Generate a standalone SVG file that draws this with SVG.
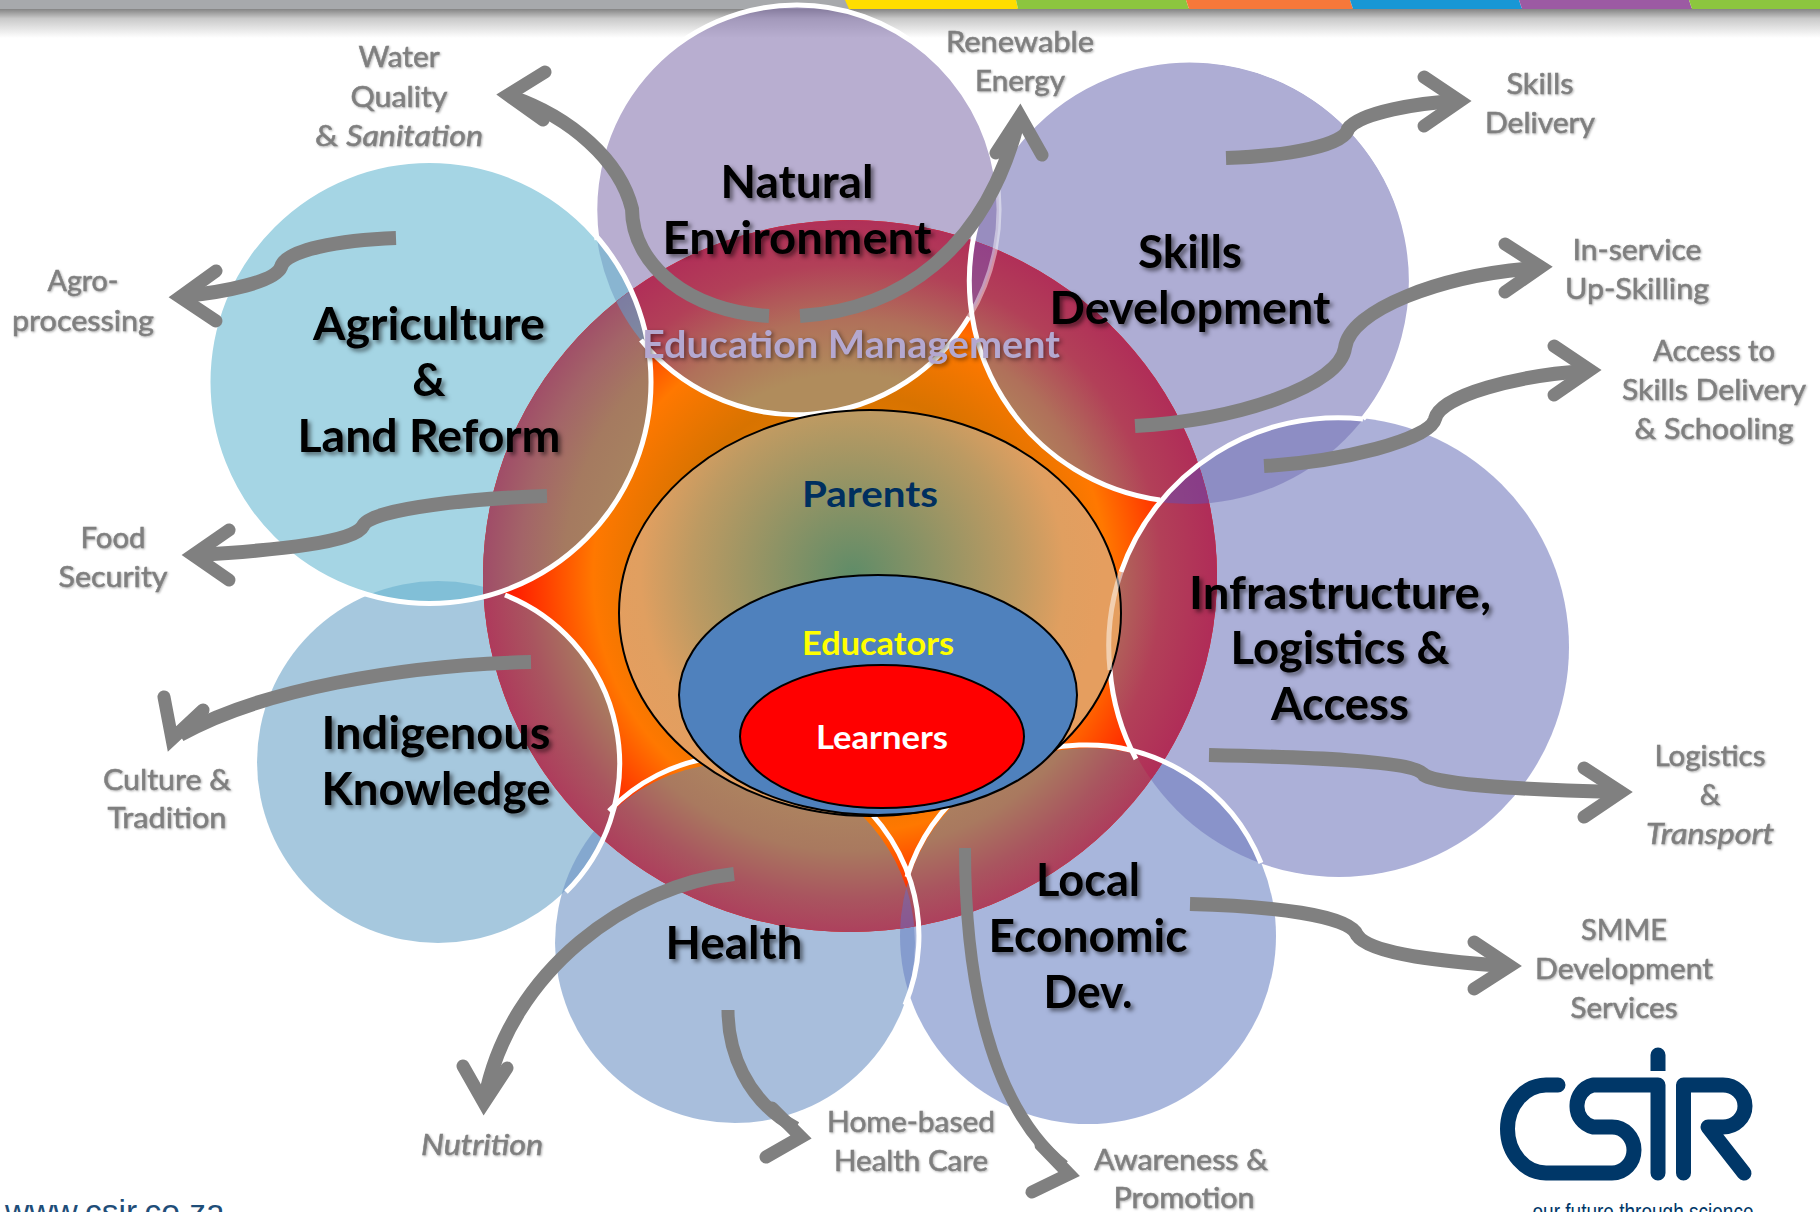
<svg xmlns="http://www.w3.org/2000/svg" width="1820" height="1212" viewBox="0 0 1820 1212">
<style>
text{font-family:Lato,"Liberation Sans",sans-serif;text-anchor:middle}
.m{font-size:46px;font-weight:700;fill:#000;filter:drop-shadow(3px 3px 2px rgba(0,0,0,.5))}
.g{font-size:29px;font-weight:400;fill:#7f7f7f;stroke:#7f7f7f;stroke-width:.5;filter:drop-shadow(1px 1px 1px rgba(0,0,0,.3))}
.c{font-size:36px;font-weight:700}
.ring{fill:none;stroke:#fff;stroke-width:5}
.f{opacity:.6}
.a{fill:none;stroke:#808080;stroke-width:14}
.b{fill:none;stroke:#808080;stroke-width:13;stroke-linecap:round;stroke-linejoin:miter}
.logo{fill:none;stroke:#003768;stroke-width:15;stroke-linecap:round;stroke-linejoin:round}
</style>
<defs>
<linearGradient id="shadow" x1="0" y1="0" x2="0" y2="1"><stop offset="0" stop-color="#7d7d7d"/><stop offset=".35" stop-color="#c9c9c9"/><stop offset="1" stop-color="#fff"/></linearGradient>
<radialGradient id="star" gradientUnits="userSpaceOnUse" cx="850" cy="576" r="367"><stop offset="0" stop-color="#ff9000"/><stop offset=".5" stop-color="#d87300"/><stop offset=".7" stop-color="#ff7800"/><stop offset=".83" stop-color="#ff4000"/><stop offset=".91" stop-color="#ff2000"/><stop offset="1" stop-color="#f01000"/></radialGradient>
<radialGradient id="muted" gradientUnits="userSpaceOnUse" cx="850" cy="576" r="367"><stop offset=".55" stop-color="#b08a60"/><stop offset=".75" stop-color="#a9795f"/><stop offset=".88" stop-color="#a9555f"/><stop offset="1" stop-color="#ae3a5c"/></radialGradient>
<radialGradient id="mutedTop" gradientUnits="userSpaceOnUse" cx="850" cy="576" r="367"><stop offset=".55" stop-color="#b08c5c"/><stop offset=".7" stop-color="#b0705a"/><stop offset=".85" stop-color="#b24058"/><stop offset="1" stop-color="#b02c58"/></radialGradient>
<radialGradient id="mutedLeft" gradientUnits="userSpaceOnUse" cx="850" cy="576" r="367"><stop offset=".6" stop-color="#a88660"/><stop offset=".78" stop-color="#a57a60"/><stop offset=".9" stop-color="#a36468"/><stop offset="1" stop-color="#a04c68"/></radialGradient>
<radialGradient id="parents" gradientUnits="userSpaceOnUse" cx="853" cy="575" r="250"><stop offset="0" stop-color="#5f8c68"/><stop offset=".65" stop-color="#bd9a62"/><stop offset=".85" stop-color="#e09f60"/><stop offset="1" stop-color="#e59e5f"/></radialGradient>
<clipPath id="cRest"><circle cx="1088" cy="936" r="188"/><circle cx="735" cy="943" r="180"/><circle cx="438" cy="762" r="181"/></clipPath>
<clipPath id="cTop"><ellipse cx="797" cy="210" rx="202" ry="205"/><circle cx="1189" cy="283" r="221"/><circle cx="1339" cy="647" r="230"/></clipPath>
<clipPath id="cAgr"><circle cx="429.500" cy="382" r="221.500"/></clipPath>
<clipPath id="cDisc"><ellipse cx="850" cy="576" rx="367" ry="356"/></clipPath>
<clipPath id="cNat"><ellipse cx="797" cy="210" rx="202" ry="205"/></clipPath>
<clipPath id="cInf"><circle cx="1339" cy="647" r="230"/></clipPath>
<clipPath id="cLoc"><circle cx="1088" cy="936" r="188"/></clipPath>
</defs>

<g id="header">
<rect x="0" y="8" width="1820" height="30" fill="url(#shadow)"/>
<rect x="0" y="0" width="850" height="9" fill="#a7a9ac"/>
<polygon points="845,0 1016,0 1018,9 849,9" fill="#ffdd00"/>
<polygon points="1016,0 1186,0 1189,9 1018,9" fill="#8cc63f"/>
<polygon points="1186,0 1350,0 1353,9 1189,9" fill="#f7783a"/>
<polygon points="1350,0 1519,0 1522,9 1353,9" fill="#1897d5"/>
<polygon points="1519,0 1689,0 1692,9 1522,9" fill="#9c5aa3"/>
<polygon points="1689,0 1820,0 1820,9 1692,9" fill="#8cc63f"/>
</g>

<g id="fields">
<circle class="f" cx="438" cy="762" r="181" fill="#6ba3c8"/>
<circle class="f" cx="735" cy="943" r="180" fill="#6e93c5"/>
<circle class="f" cx="1088" cy="936" r="188" fill="#6e85c5"/>
<circle class="f" cx="1339" cy="647" r="230" fill="#757bbe"/>
<circle class="f" cx="1189" cy="283" r="221" fill="#7876b7"/>
<ellipse class="f" cx="797" cy="210" rx="202" ry="205" fill="#8978b1"/>
<circle class="f" cx="429.500" cy="382" r="221.500" fill="#69b9d2"/>
</g>

<g id="education-management-disc">
<ellipse cx="850" cy="576" rx="367" ry="356" fill="url(#star)"/>
<ellipse cx="850" cy="576" rx="367" ry="356" fill="url(#muted)" clip-path="url(#cRest)"/>
<ellipse cx="850" cy="576" rx="367" ry="356" fill="url(#mutedTop)" clip-path="url(#cTop)"/>
<ellipse cx="850" cy="576" rx="367" ry="356" fill="url(#mutedLeft)" clip-path="url(#cAgr)"/>
<g clip-path="url(#cDisc)">
<circle cx="1189" cy="283" r="221" fill="#6a60d0" opacity=".4" clip-path="url(#cNat)"/>
<circle cx="1189" cy="283" r="221" fill="#5a50c0" opacity=".45" clip-path="url(#cInf)"/>
<circle cx="429.500" cy="382" r="221.500" fill="#60a0d0" opacity=".55" clip-path="url(#cNat)"/>
<circle cx="735" cy="943" r="180" fill="#6070d0" opacity=".45" clip-path="url(#cLoc)"/>
</g>
</g>

<g id="node-natural-environment">
<path class="ring" d="M641,340 A202,205 0 0 0 969,317"/>
<path class="ring" d="M996,174 A202,205 0 0 0 797,5 A202,205 0 0 0 597,240"/>
<path class="ring" d="M969,317 A202,205 0 0 0 996,174" opacity=".45"/>
<text class="m" x="797" y="198" textLength="153" lengthAdjust="spacingAndGlyphs">Natural</text>
<text class="m" x="797" y="254" textLength="269" lengthAdjust="spacingAndGlyphs">Environment</text>
</g>
<g id="node-skills-development">
<path class="ring" d="M1160,500 A221,221 0 1 1 1363,419"/>
<text class="m" x="1190" y="268" textLength="104" lengthAdjust="spacingAndGlyphs">Skills</text>
<text class="m" x="1190" y="324" textLength="281" lengthAdjust="spacingAndGlyphs">Development</text>
</g>
<g id="node-infrastructure">
<path class="ring" d="M1363,419 A230,230 0 0 0 1121,572"/>
<path class="ring" d="M1110,670 A230,230 0 0 0 1136,759"/>
<text class="m" x="1340" y="609" textLength="302" lengthAdjust="spacingAndGlyphs">Infrastructure,</text>
<text class="m" x="1340" y="664" textLength="219" lengthAdjust="spacingAndGlyphs">Logistics &amp;</text>
<text class="m" x="1340" y="720" textLength="138" lengthAdjust="spacingAndGlyphs">Access</text>
</g>
<g id="node-local-economic-dev">
<path class="ring" d="M1261,863 A188,188 0 0 0 907,877"/>
<text class="m" x="1088" y="896" textLength="104" lengthAdjust="spacingAndGlyphs">Local</text>
<text class="m" x="1088" y="952" textLength="199" lengthAdjust="spacingAndGlyphs">Economic</text>
<text class="m" x="1088" y="1008" textLength="89" lengthAdjust="spacingAndGlyphs">Dev.</text>
</g>
<g id="node-health">
<path class="ring" d="M609,811 A180,180 0 0 1 905,1005"/>
<text class="m" x="734" y="959" textLength="137" lengthAdjust="spacingAndGlyphs">Health</text>
</g>
<g id="node-indigenous-knowledge">
<path class="ring" d="M505,595 A181,181 0 0 1 566,892"/>
<text class="m" x="436" y="749" textLength="229" lengthAdjust="spacingAndGlyphs">Indigenous</text>
<text class="m" x="436" y="805" textLength="229" lengthAdjust="spacingAndGlyphs">Knowledge</text>
</g>
<g id="node-agriculture">
<circle class="ring" cx="429.500" cy="382" r="221.500"/>
<text class="m" x="429" y="340" textLength="232" lengthAdjust="spacingAndGlyphs">Agriculture</text>
<text class="m" x="429" y="396">&amp;</text>
<text class="m" x="429" y="452" textLength="263" lengthAdjust="spacingAndGlyphs">Land Reform</text>
</g>
<g id="node-education-management">
<text x="851" y="358" font-size="38" font-weight="700" fill="#b4a8d0" textLength="418" lengthAdjust="spacingAndGlyphs" style="filter:drop-shadow(2px 2px 2px rgba(0,0,0,.45))">Education Management</text>
</g>

<g id="node-parents">
<ellipse cx="870" cy="613" rx="251" ry="203" fill="url(#parents)" stroke="#000" stroke-width="2"/>
<path class="ring" d="M1121,572 A230,230 0 0 0 1110,670" opacity=".5"/>
<text class="c" x="870" y="507" fill="#002f5f" textLength="136" lengthAdjust="spacingAndGlyphs">Parents</text>
</g>
<g id="node-educators">
<ellipse cx="878" cy="695" rx="199" ry="120" fill="#4f81bd" stroke="#000" stroke-width="2"/>
<text class="c" x="878" y="655" fill="#ffff00" textLength="152" lengthAdjust="spacingAndGlyphs" style="font-size:32px">Educators</text>
</g>
<g id="node-learners">
<ellipse cx="882" cy="736.500" rx="142" ry="71.500" fill="#ff0000" stroke="#000" stroke-width="2"/>
<text class="c" x="882" y="749" fill="#fff" textLength="132" lengthAdjust="spacingAndGlyphs" style="font-size:32px">Learners</text>
</g>

<g id="connectors">
<path class="a" d="M769,316 C690,312 632,265 632,209 C620,160 570,117 512,97"/><path class="b" d="M545,72 L508,95 L543,120"/>
<path class="a" d="M800,316 C900,310 985,250 1018,122"/><path class="b" d="M996,153 L1020,116 L1042,155"/>
<path class="a" d="M396,238 C340,240 285,250 281,267 C275,282 225,292 184,296"/><path class="b" d="M216,271 L180,297 L216,321"/>
<path class="a" d="M547,496 C480,498 370,508 363,526 C355,542 280,550 197,555"/><path class="b" d="M229,530 L193,555 L229,580"/>
<path class="a" d="M531,662 C400,665 260,690 180,735"/><path class="b" d="M164,697 L172,739 L203,710"/>
<path class="a" d="M734,874 C630,885 510,970 485,1098"/><path class="b" d="M463,1066 L484,1103 L507,1068"/>
<path class="a" d="M728,1010 C728,1050 745,1100 796,1128" style="stroke-width:13"/><path class="b" d="M772,1108 L801,1137 L766,1157"/>
<path class="a" d="M965,848 C965,980 990,1105 1064,1166" style="stroke-width:12"/><path class="b" d="M1041,1145 L1069,1174 L1032,1192"/>
<path class="a" d="M1190,904 C1270,906 1350,915 1357,935 C1370,955 1450,962 1506,966"/><path class="b" d="M1474,942 L1510,966 L1474,989"/>
<path class="a" d="M1209,755 C1300,757 1415,760 1424,775 C1440,785 1530,790 1617,792"/><path class="b" d="M1584,768 L1621,792 L1584,817"/>
<path class="a" d="M1226,158 C1290,156 1345,145 1348,129 C1360,112 1420,103 1456,101"/><path class="b" d="M1424,77 L1460,101 L1424,126"/>
<path class="a" d="M1135,426 C1240,420 1340,385 1345,348 C1350,310 1440,275 1537,268"/><path class="b" d="M1505,244 L1541,267 L1505,292"/>
<path class="a" d="M1264,466 C1340,462 1430,440 1435,419 C1440,395 1520,375 1586,371"/><path class="b" d="M1554,346 L1590,370 L1554,395"/>
</g>

<g id="labels">
<text class="g" x="399" y="67" textLength="81" lengthAdjust="spacingAndGlyphs">Water</text>
<text class="g" x="399" y="107" textLength="97" lengthAdjust="spacingAndGlyphs">Quality</text>
<text class="g" x="399" y="146" textLength="168" lengthAdjust="spacingAndGlyphs">&amp; <tspan font-style="italic">Sanitation</tspan></text>
<text class="g" x="1020" y="52" textLength="148" lengthAdjust="spacingAndGlyphs">Renewable</text>
<text class="g" x="1020" y="91" textLength="90" lengthAdjust="spacingAndGlyphs">Energy</text>
<text class="g" x="83" y="291" textLength="71" lengthAdjust="spacingAndGlyphs">Agro-</text>
<text class="g" x="83" y="331" textLength="142" lengthAdjust="spacingAndGlyphs">processing</text>
<text class="g" x="113" y="548" textLength="65" lengthAdjust="spacingAndGlyphs">Food</text>
<text class="g" x="113" y="587" textLength="109" lengthAdjust="spacingAndGlyphs">Security</text>
<text class="g" x="167" y="790" textLength="128" lengthAdjust="spacingAndGlyphs">Culture &amp;</text>
<text class="g" x="167" y="828" textLength="119" lengthAdjust="spacingAndGlyphs">Tradition</text>
<text class="g" x="482" y="1155" font-style="italic" textLength="122" lengthAdjust="spacingAndGlyphs">Nutrition</text>
<text class="g" x="911" y="1132" textLength="168" lengthAdjust="spacingAndGlyphs">Home-based</text>
<text class="g" x="911" y="1171" textLength="154" lengthAdjust="spacingAndGlyphs">Health Care</text>
<text class="g" x="1181" y="1170" textLength="174" lengthAdjust="spacingAndGlyphs">Awareness &amp;</text>
<text class="g" x="1184" y="1208" textLength="141" lengthAdjust="spacingAndGlyphs">Promotion</text>
<text class="g" x="1624" y="940" textLength="86" lengthAdjust="spacingAndGlyphs">SMME</text>
<text class="g" x="1624" y="979" textLength="178" lengthAdjust="spacingAndGlyphs">Development</text>
<text class="g" x="1624" y="1018" textLength="107" lengthAdjust="spacingAndGlyphs">Services</text>
<text class="g" x="1710" y="766" textLength="111" lengthAdjust="spacingAndGlyphs">Logistics</text>
<text class="g" x="1710" y="805">&amp;</text>
<text class="g" x="1710" y="844" font-style="italic" textLength="128" lengthAdjust="spacingAndGlyphs">Transport</text>
<text class="g" x="1540" y="94" textLength="67" lengthAdjust="spacingAndGlyphs">Skills</text>
<text class="g" x="1540" y="133" textLength="110" lengthAdjust="spacingAndGlyphs">Delivery</text>
<text class="g" x="1637" y="260" textLength="129" lengthAdjust="spacingAndGlyphs">In-service</text>
<text class="g" x="1637" y="299" textLength="144" lengthAdjust="spacingAndGlyphs">Up-Skilling</text>
<text class="g" x="1714" y="361" textLength="122" lengthAdjust="spacingAndGlyphs">Access to</text>
<text class="g" x="1714" y="400" textLength="184" lengthAdjust="spacingAndGlyphs">Skills Delivery</text>
<text class="g" x="1714" y="439" textLength="159" lengthAdjust="spacingAndGlyphs">&amp; Schooling</text>
</g>

<g id="csir-logo">
<path class="logo" d="M1558,1085 H1546 A39,44 0 0 0 1507.500,1129 A39,44 0 0 0 1546,1173 H1612 A22,23 0 0 0 1634,1150 A22,23 0 0 0 1612,1127 H1593 A21,21 0 0 1 1577,1106 A21,21 0 0 1 1593,1085 H1658 V1173"/>
<path class="logo" d="M1683.500,1173 V1085 H1723 A22,21 0 0 1 1745,1106 A22,21 0 0 1 1723,1127 H1708 L1744,1173"/>
<path d="M1650.500,1071 V1055 a7.500,7.500 0 0 1 15,0 V1071 Z" fill="#003768"/>
<text x="1643" y="1220" fill="#003768" textLength="221" lengthAdjust="spacingAndGlyphs" style="font-family:'Liberation Sans',sans-serif;font-size:24px">our future through science</text>
</g>
<text id="website" x="5" y="1223" fill="#1f4e79" style="font-family:'Liberation Sans',sans-serif;font-size:33.500px;text-anchor:start">www.csir.co.za</text>
</svg>
